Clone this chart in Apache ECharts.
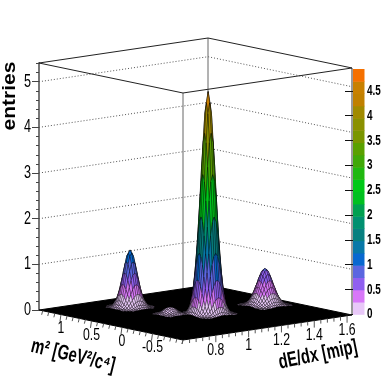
<!DOCTYPE html>
<html>
<head>
<meta charset="utf-8">
<style>html,body{margin:0;background:#fff}#chart{width:391px;height:379px}</style>
<script src="https://cdn.jsdelivr.net/npm/echarts@6/dist/echarts.min.js"></script>
</head>
<body>
<div id="chart"></div>
<script>
// axis ranges and ticks
var dedxRange = [0.6, 1.63];
var m2Range = [-1, 1.36];
var zMax = 5.41;
var zTicks = [0, 1, 2, 3, 4, 5];
var dedxTicks = [0.8, 1, 1.2, 1.4, 1.6];
var m2Ticks = [-0.5, 0, 0.5, 1];
var paletteTicks = [0, 0.5, 1, 1.5, 2, 2.5, 3, 3.5, 4, 4.5];
var paletteMax = 4.94;
var paletteColors = ['#e8c8f8', '#d878f8', '#9060f0', '#5a66e0', '#0868d0', '#0878a8', '#088080', '#009070', '#00a050', '#00c020',
    '#00c818', '#20b810', '#40a808', '#5aa000', '#7a9600', '#8a9000', '#a08a00', '#c08000', '#c88000', '#f57000'];

// bin widths of the histogram
var dedxStep = 0.01073;
var m2Step = 0.02458;

// peak heights. Peaks look symmetric, so one quadrant is kept:
// first row/column is the peak centre, rows go along m2, columns along dE/dx
var mainCenter = [1.143, 0.048];
var mainQuadrant = [
    [4.86, 4.62, 3.96, 3.06, 2.14, 1.35, .77, .39, .18, .08, .03],
    [4.62, 4.39, 3.76, 2.91, 2.03, 1.28, .73, .37, .18, .07, .03],
    [3.96, 3.76, 3.23, 2.50, 1.74, 1.10, .63, .32, .15, .06, .02],
    [3.06, 2.91, 2.50, 1.93, 1.35, .85, .48, .25, .12, .05, .02],
    [2.14, 2.03, 1.74, 1.35, .94, .59, .34, .17, .08, .03, .01],
    [1.35, 1.28, 1.10, .85, .59, .37, .21, .11, .05, .02, .01],
    [.77, .73, .63, .48, .34, .21, .12, .06, .03, .01, 0],
    [.39, .37, .32, .25, .17, .11, .06, .03, .01, .01, 0],
    [.18, .18, .15, .12, .08, .05, .03, .01, .01, 0, 0],
    [.08, .07, .06, .05, .03, .02, .01, .01, 0, 0, 0],
    [.03, .03, .02, .02, .01, .01, 0, 0, 0, 0, 0]
];
var leftCenter = [0.976, 0.878];
var leftQuadrant = [
    [1.25, 1.18, 1.00, .76, .51, .31, .17, .08, .04, .01],
    [1.18, 1.12, .95, .72, .49, .29, .16, .08, .03, .01],
    [1.00, .95, .80, .61, .41, .25, .14, .07, .03, .01],
    [.76, .72, .61, .46, .31, .19, .10, .05, .02, .01],
    [.51, .49, .41, .31, .21, .13, .07, .03, .01, .01],
    [.31, .29, .25, .19, .13, .08, .04, .02, .01, 0],
    [.17, .16, .14, .10, .07, .04, .02, .01, 0, 0],
    [.08, .08, .07, .05, .03, .02, .01, 0, 0, 0],
    [.04, .03, .03, .02, .01, .01, 0, 0, 0, 0],
    [.01, .01, .01, .01, .01, 0, 0, 0, 0, 0]
];
var rightCenter = [1.491, 0.053];
var rightQuadrant = [
    [.80, .77, .68, .55, .41, .28, .18, .10, .05, .03],
    [.77, .74, .65, .53, .39, .27, .17, .10, .05, .03],
    [.68, .65, .57, .46, .35, .24, .15, .09, .05, .02],
    [.55, .53, .46, .38, .28, .19, .12, .07, .04, .02],
    [.41, .39, .35, .28, .21, .14, .09, .05, .03, .01],
    [.28, .27, .24, .19, .14, .10, .06, .04, .02, .01],
    [.18, .17, .15, .12, .09, .06, .04, .02, .01, .01],
    [.10, .10, .09, .07, .05, .04, .02, .01, .01, 0],
    [.05, .05, .05, .04, .03, .02, .01, .01, 0, 0],
    [.03, .03, .02, .02, .01, .01, .01, 0, 0, 0]
];
var smallCenter = [0.999, 0.284];
var smallQuadrant = [
    [.15, .14, .11, .08, .05, .03, .01],
    [.14, .13, .11, .08, .05, .03, .01],
    [.11, .11, .09, .06, .04, .02, .01],
    [.08, .08, .06, .04, .03, .01, .01],
    [.05, .05, .04, .03, .02, .01, 0],
    [.03, .03, .02, .01, .01, 0, 0],
    [.01, .01, .01, .01, 0, 0, 0]
];

var textFont = 'Liberation Sans';

function mirrorQuadrant(q) {
    var n = q.length - 1, out = [];
    for (var r = -n; r <= n; r++) {
        var row = [];
        for (var c = -n; c <= n; c++) row.push(q[Math.abs(r)][Math.abs(c)]);
        out.push(row);
    }
    return out;
}

// oblique view of the box: floor position goes to [0..1 across the box, height in z units]
function project(dedx, m2, z) {
    var a = (dedx - dedxRange[0]) / (dedxRange[1] - dedxRange[0]);
    var b = (m2 - m2Range[0]) / (m2Range[1] - m2Range[0]);
    return [(144 + 169 * a - 144 * b) / 313, z - (30 - 25 * a - 30 * b) / 45.66];
}

function layer(items, draw, axisIndex) {
    return {
        type: 'custom',
        coordinateSystem: 'cartesian2d',
        xAxisIndex: axisIndex || 0,
        yAxisIndex: axisIndex || 0,
        silent: true,
        data: items.map(function (d, i) { return [i, 0]; }),
        renderItem: function (params, api) { return draw(items[params.dataIndex], api); }
    };
}

function pt(api, dedx, m2, z) {
    return api.coord(project(dedx, m2, z));
}

function label(text, x, y, size, scale, align, extra) {
    var el = {
        type: 'text', x: x, y: y, scaleX: scale,
        style: { text: text, fontFamily: textFont, fontSize: size, fill: '#000', align: align, verticalAlign: 'middle' }
    };
    if (extra) {
        for (var k in extra) {
            if (k === 'fontWeight') el.style.fontWeight = extra[k]; else el[k] = extra[k];
        }
    }
    return el;
}

// faces and edges behind the surface
var dMin = dedxRange[0], dMax = dedxRange[1], mMin = m2Range[0], mMax = m2Range[1];

var gridLayer = layer(zTicks.slice(1), function (v, api) {
    return {
        type: 'polyline',
        shape: { points: [pt(api, dMin, mMax, v), pt(api, dMax, mMax, v), pt(api, dMax, mMin, v)] },
        style: { fill: null, stroke: '#555', lineWidth: 1, lineDash: [1, 2] }
    };
});

var edges = [
    { from: [dMin, mMin, 0], to: [dMin, mMin, zMax], color: '#666', width: 1 },
    { from: [dMax, mMax, 0], to: [dMax, mMax, zMax], color: '#666', width: 1 },
    { from: [dMax, mMin, 0], to: [dMax, mMin, zMax], color: '#999', width: 2 },
    { from: [dMin, mMax, zMax], to: [dMax, mMax, zMax], color: '#222', width: 1 },
    { from: [dMax, mMax, zMax], to: [dMax, mMin, zMax], color: '#222', width: 1 },
    { from: [dMax, mMin, zMax], to: [dMin, mMin, zMax], color: '#222', width: 1 },
    { from: [dMin, mMin, zMax], to: [dMin, mMax, zMax], color: '#222', width: 1 }
];
var edgeLayer = layer(edges, function (e, api) {
    var p = pt(api, e.from[0], e.from[1], e.from[2]), q = pt(api, e.to[0], e.to[1], e.to[2]);
    return {
        type: 'line',
        shape: { x1: p[0], y1: p[1], x2: q[0], y2: q[1] },
        style: { stroke: e.color, lineWidth: e.width }
    };
});

var floorLayer = layer([0], function (d, api) {
    return {
        type: 'polygon',
        shape: { points: [pt(api, dMin, mMin, 0), pt(api, dMax, mMin, 0), pt(api, dMax, mMax, 0), pt(api, dMin, mMax, 0)] },
        style: { fill: '#000', stroke: '#000', lineWidth: 1 }
    };
});

// ticks under the two front edges of the floor
var floorTicks = [];
for (var i = 0; i <= 25; i++) {
    var dv = 0.6 + i * 0.04;
    if (dv <= dMax) floorTicks.push({ dedx: dv, m2: mMin, major: i % 5 === 0 && i > 0 });
}
for (var n = 0; n <= 23; n++) {
    var mv = -1 + n * 0.1;
    if (mv <= mMax) floorTicks.push({ dedx: dMin, m2: mv, major: n % 5 === 0 && n > 0 });
}
var tickLayer = layer(floorTicks, function (t, api) {
    var p = pt(api, t.dedx, t.m2, 0);
    return {
        type: 'line',
        shape: { x1: p[0], y1: p[1], x2: p[0] + (t.dedx === dMin ? -1 : 0), y2: p[1] + (t.major ? 7 : 4) },
        style: { stroke: '#555', lineWidth: 1 }
    };
});

// one polygon per histogram cell, painted from the back corner forward
function surfaceLayer(quadrant, center) {
    var matrix = mirrorQuadrant(quadrant);
    var half = (matrix.length - 1) / 2;
    var cells = [];
    for (var r = matrix.length - 2; r >= 0; r--) {
        for (var c = matrix.length - 2; c >= 0; c--) {
            var top = Math.max(matrix[r][c], matrix[r][c + 1], matrix[r + 1][c], matrix[r + 1][c + 1]);
            if (top > 0) cells.push([r, c]);
        }
    }
    return layer(cells, function (cell, api) {
        var r = cell[0], c = cell[1];
        var corners = [[r, c], [r, c + 1], [r + 1, c + 1], [r + 1, c]];
        var sum = 0;
        var points = corners.map(function (k) {
            var z = matrix[k[0]][k[1]];
            sum += z;
            return pt(api, center[0] + (k[1] - half) * dedxStep, center[1] + (k[0] - half) * m2Step, z);
        });
        var band = Math.min(paletteColors.length - 1, Math.floor(sum / 4 / (paletteMax / paletteColors.length)));
        return {
            type: 'polygon',
            shape: { points: points },
            style: { fill: paletteColors[band], stroke: '#000', lineWidth: 0.35 }
        };
    });
}

// palette on the right
var paletteLayer = layer(paletteColors, function (color, api) {
    var idx = paletteColors.indexOf(color);
    var w = paletteMax / paletteColors.length;
    var p = api.coord([0, idx * w]), q = api.coord([1, (idx + 1) * w]);
    return {
        type: 'rect',
        shape: { x: p[0], y: q[1], width: q[0] - p[0], height: p[1] - q[1] + 0.5 },
        style: { fill: color }
    };
}, 1);
var paletteLabels = layer(paletteTicks, function (v, api) {
    var p = api.coord([1, v]);
    return label(String(v), p[0] + 2.5, p[1], 15, 0.66, 'left', { fontWeight: 'bold' });
}, 1);
var zLabels = layer(zTicks, function (v, api) {
    var p = api.coord([0, v]);
    return label(String(v), p[0] - 8, p[1], 18, 0.7, 'right');
});
var dedxLabels = layer(dedxTicks, function (v, api) {
    var p = pt(api, v, mMin, 0);
    return label(String(v), p[0], p[1] + 15, 17, 0.72, 'center');
});
var m2Labels = layer(m2Ticks, function (v, api) {
    var p = pt(api, dMin, v, 0);
    return label(String(v), p[0], p[1] + 14, 17, 0.72, 'center');
});
var titles = layer([
    { text: 'entries', x: 10, y: 96, size: 21, rotation: Math.PI / 2, sx: 1, sy: 0.85 },
    { text: 'm² [GeV²/c⁴]', x: 73, y: 356, size: 21, rotation: -0.24, sx: 0.7, sy: 1 },
    { text: 'dE/dx [mip]', x: 318, y: 355, size: 21, rotation: 0.2, sx: 0.7, sy: 1 }
], function (t) {
    return label(t.text, t.x, t.y, t.size, t.sx, 'center', { rotation: t.rotation, scaleY: t.sy, fontWeight: 'bold' });
});

var myChart = echarts.init(document.getElementById('chart'));

var option = {
    animation: false,
    backgroundColor: '#fff',
    grid: [
        { left: 39, right: 39, top: 63, bottom: 69 },
        { left: 353, right: 26.5, top: 69, bottom: 64.7 }
    ],
    xAxis: [
        { type: 'value', gridIndex: 0, min: 0, max: 1, show: false },
        { type: 'value', gridIndex: 1, min: 0, max: 1, show: false }
    ],
    yAxis: [
        {
            type: 'value', gridIndex: 0, min: 0, max: zMax, interval: 1,
            axisLine: { show: true, lineStyle: { color: '#777', width: 2 } },
            axisTick: { show: true, length: 7, customValues: zTicks, lineStyle: { color: '#444' } },
            minorTick: { show: true, splitNumber: 5, length: 3, lineStyle: { color: '#444' } },
            axisLabel: { show: false },
            splitLine: { show: false }
        },
        {
            type: 'value', gridIndex: 1, position: 'right', min: 0, max: paletteMax, interval: 0.5, z: 5,
            axisLine: { show: false },
            axisTick: { show: true, inside: true, length: 8, customValues: paletteTicks, lineStyle: { color: '#111' } },
            axisLabel: { show: false },
            splitLine: { show: false }
        }
    ],
    series: [
        gridLayer,
        edgeLayer,
        floorLayer,
        tickLayer,
        surfaceLayer(leftQuadrant, leftCenter),
        surfaceLayer(rightQuadrant, rightCenter),
        surfaceLayer(mainQuadrant, mainCenter),
        surfaceLayer(smallQuadrant, smallCenter),
        paletteLayer,
        paletteLabels,
        zLabels,
        dedxLabels,
        m2Labels,
        titles
    ]
};

myChart.setOption(option, true);
</script>
</body>
</html>
